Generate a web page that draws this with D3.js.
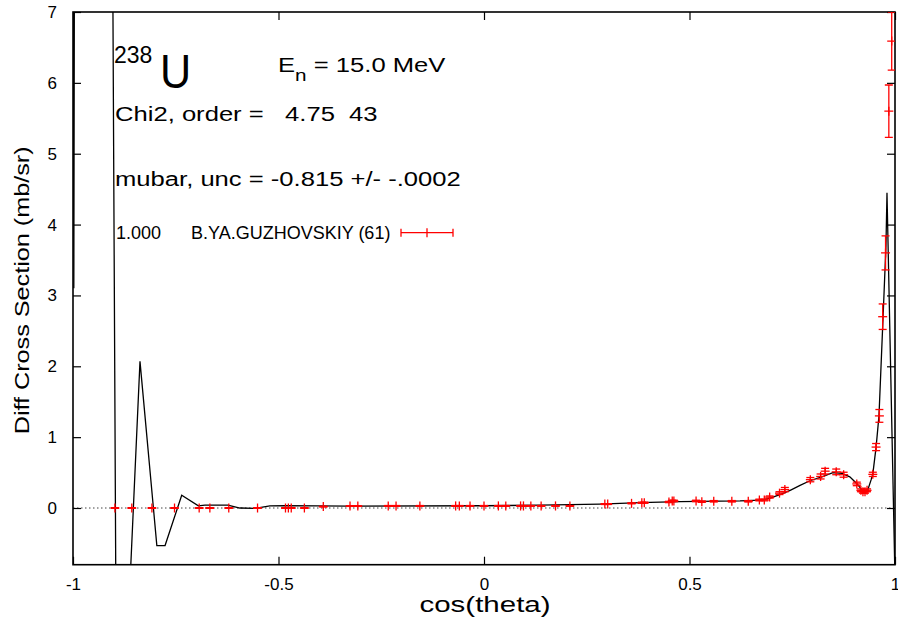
<!DOCTYPE html>
<html>
<head>
<meta charset="utf-8">
<script src="https://cdn.jsdelivr.net/npm/d3@7"></script>
<style>
  html, body { margin: 0; padding: 0; background: #fff; }
  svg { display: block; font-family: "Liberation Sans", Arial, Helvetica, sans-serif; }
  text { white-space: pre; }
</style>
</head>
<body>
<svg id="chart" width="898" height="620"></svg>
<script>
// Measured angular distribution: cos(theta), cross section (mb/sr), uncertainty
const cosTheta = [-0.898, -0.857, -0.808, -0.753, -0.693, -0.667, -0.621, -0.551, -0.483, -0.476,
  -0.469, -0.437, -0.391, -0.326, -0.307, -0.233, -0.214, -0.156, -0.069, -0.060,
  -0.034, 0.000, 0.035, 0.053, 0.089, 0.096, 0.114, 0.139, 0.174, 0.209,
  0.294, 0.301, 0.359, 0.384, 0.390, 0.450, 0.458, 0.462, 0.516, 0.530,
  0.559, 0.603, 0.643, 0.670, 0.682, 0.695, 0.719, 0.732, 0.794, 0.819,
  0.830, 0.857, 0.875, 0.907, 0.917, 0.922, 0.927, 0.932, 0.946, 0.954,
  0.962, 0.970, 0.977, 0.985, 0.992];
const sigma = [0.000, 0.000, 0.000, 0.000, 0.000, 0.000, 0.000, 0.000, 0.000, 0.000,
  0.000, 0.000, 0.020, 0.028, 0.028, 0.030, 0.030, 0.030, 0.030, 0.030,
  0.030, 0.030, 0.030, 0.030, 0.030, 0.030, 0.030, 0.030, 0.030, 0.030,
  0.056, 0.056, 0.066, 0.075, 0.075, 0.085, 0.100, 0.100, 0.100, 0.090,
  0.095, 0.095, 0.095, 0.113, 0.113, 0.155, 0.210, 0.260, 0.400, 0.445,
  0.520, 0.510, 0.470, 0.340, 0.250, 0.230, 0.230, 0.250, 0.475, 0.860,
  1.300, 2.700, 3.600, 5.600, 6.590];
const sigmaErr = [0.005, 0.005, 0.005, 0.005, 0.005, 0.005, 0.005, 0.005, 0.005, 0.005,
  0.005, 0.005, 0.005, 0.005, 0.005, 0.005, 0.005, 0.005, 0.005, 0.005,
  0.005, 0.005, 0.005, 0.005, 0.005, 0.005, 0.005, 0.005, 0.005, 0.005,
  0.006, 0.006, 0.007, 0.008, 0.008, 0.009, 0.010, 0.010, 0.010, 0.010,
  0.010, 0.010, 0.010, 0.012, 0.012, 0.015, 0.020, 0.030, 0.030, 0.035,
  0.040, 0.040, 0.035, 0.025, 0.020, 0.020, 0.020, 0.020, 0.030, 0.050,
  0.090, 0.180, 0.240, 0.370, 0.410];

// Legendre fit evaluated on the angular grid
const fitX = [-1.000, -0.998, -0.996, -0.9045, -0.8955, -0.878, -0.837, -0.796, -0.776, -0.7355,
  -0.695, -0.679, -0.623, -0.594, -0.557, -0.521, -0.484, -0.326, 0.000, 0.136,
  0.282, 0.380, 0.477, 0.623, 0.672, 0.696, 0.720, 0.745, 0.769, 0.793,
  0.822, 0.849, 0.871, 0.890, 0.908, 0.920, 0.927, 0.934, 0.942, 0.946,
  0.954, 0.961, 0.971, 0.978, 0.9805, 1.000];
const fitY = [9.5, 3.1, 9.5, 9.0, -1.5, -3.2, 2.07, -0.53, -0.53, 0.18,
  0.03, 0.04, 0.04, 0.00, -0.005, 0.03, 0.035, 0.028, 0.032, 0.040,
  0.056, 0.075, 0.090, 0.100, 0.110, 0.140, 0.190, 0.250, 0.320, 0.385,
  0.440, 0.500, 0.490, 0.440, 0.340, 0.250, 0.230, 0.260, 0.400, 0.480,
  0.860, 1.300, 2.700, 3.700, 4.450, -1.000];

const xTicks = [-1, -0.5, 0, 0.5, 1];
const yTicks = [0, 1, 2, 3, 4, 5, 6, 7];

const nucleusMass = "238";
const nucleus = "U";
const energyText = ["E", "n", " = 15.0 MeV"];
const chi2Text = "Chi2, order =   4.75  43";
const mubarText = "mubar, unc = -0.815 +/- -.0002";
const legendNorm = "1.000";
const legendLabel = "B.YA.GUZHOVSKIY (61)";

const margin = { left: 73, top: 12, right: 3, bottom: 55.3 };
const W = 898, H = 620;
const innerW = W - margin.left - margin.right;
const innerH = H - margin.top - margin.bottom;

const svg = d3.select("#chart");
const x = d3.scaleLinear().domain([-1, 1]).range([0, innerW]);
const y = d3.scaleLinear().domain([-0.8, 7]).range([innerH, 0]);

const g = svg.append("g").attr("transform", `translate(${margin.left},${margin.top})`);

svg.append("defs").append("clipPath").attr("id", "plot-clip")
  .append("rect").attr("x", 0).attr("y", 0).attr("width", innerW).attr("height", innerH);

// zero reference line
g.append("line")
  .attr("x1", 0).attr("x2", innerW)
  .attr("y1", y(0)).attr("y2", y(0))
  .attr("stroke", "#444").attr("stroke-width", 1)
  .attr("stroke-dasharray", "1.5,2.5");

// ticks on all four sides, pointing inward
const tickLen = 8;
const axisStyle = sel => {
  sel.select(".domain").remove();
  sel.selectAll(".tick line").attr("stroke", "#000").attr("stroke-width", 1.2);
  sel.selectAll(".tick text").attr("fill", "#000")
    .style("font-size", "17px").style("font-family", "'Liberation Sans', Arial, sans-serif");
};
const fmtX = d => d === 0 ? "0" : String(d);

g.append("g").attr("transform", `translate(0,${innerH})`)
  .call(d3.axisBottom(x).tickValues(xTicks).tickFormat(fmtX).tickSizeInner(-tickLen).tickSizeOuter(0).tickPadding(13))
  .call(axisStyle);
g.append("g")
  .call(d3.axisTop(x).tickValues(xTicks).tickFormat("").tickSizeInner(-tickLen).tickSizeOuter(0))
  .call(axisStyle);
g.append("g")
  .call(d3.axisLeft(y).tickValues(yTicks).tickFormat(d3.format("d")).tickSizeInner(-tickLen).tickSizeOuter(0).tickPadding(16))
  .call(axisStyle);
g.append("g").attr("transform", `translate(${innerW},0)`)
  .call(d3.axisRight(y).tickValues(yTicks).tickFormat("").tickSizeInner(-tickLen).tickSizeOuter(0))
  .call(axisStyle);

// frame
g.append("rect").attr("x", 0).attr("y", 0).attr("width", innerW).attr("height", innerH)
  .attr("fill", "none").attr("stroke", "#000").attr("stroke-width", 1.6);

const plot = g.append("g").attr("clip-path", "url(#plot-clip)");

// fitted curve
const fit = fitX.map((d, i) => [d, fitY[i]]);
plot.append("path")
  .datum(fit)
  .attr("fill", "none").attr("stroke", "#000").attr("stroke-width", 1.3)
  .attr("d", d3.line().x(d => x(d[0])).y(d => y(d[1])));

// data points with error bars
const pts = cosTheta.map((c, i) => ({ c, v: sigma[i], e: sigmaErr[i] }));
const red = "#ff0000";
const cap = 4, arm = 4.5;
const pg = plot.append("g").attr("stroke", red).attr("stroke-width", 1.3).attr("fill", "none");
const p = pg.selectAll("g.pt").data(pts).join("g").attr("class", "pt");
p.append("line").attr("x1", d => x(d.c)).attr("x2", d => x(d.c))
  .attr("y1", d => y(d.v + d.e)).attr("y2", d => y(d.v - d.e));
p.append("line").attr("x1", d => x(d.c) - cap).attr("x2", d => x(d.c) + cap)
  .attr("y1", d => y(d.v + d.e)).attr("y2", d => y(d.v + d.e));
p.append("line").attr("x1", d => x(d.c) - cap).attr("x2", d => x(d.c) + cap)
  .attr("y1", d => y(d.v - d.e)).attr("y2", d => y(d.v - d.e));
p.append("line").attr("x1", d => x(d.c) - arm).attr("x2", d => x(d.c) + arm)
  .attr("y1", d => y(d.v)).attr("y2", d => y(d.v));
p.append("line").attr("x1", d => x(d.c)).attr("x2", d => x(d.c))
  .attr("y1", d => y(d.v) - arm).attr("y2", d => y(d.v) + arm);

// axis titles
svg.append("text")
  .attr("transform", `translate(${margin.left + innerW / 2 + 1},612) scale(1.34,1)`)
  .attr("text-anchor", "middle").style("font-size", "22px")
  .text("cos(theta)");
svg.append("text")
  .attr("transform", `translate(29,${margin.top + innerH / 2 + 2}) rotate(-90) scale(1.2,1)`)
  .attr("text-anchor", "middle").style("font-size", "21px")
  .text("Diff Cross Section (mb/sr)");

// annotations
const ann = svg.append("g").attr("fill", "#000");
ann.append("text").attr("x", 114).attr("y", 63).style("font-size", "23px").text(nucleusMass);
ann.append("text").attr("transform", "translate(160,88) scale(0.88,1)").style("font-size", "49px").text(nucleus);
const en = ann.append("text").attr("transform", "translate(278,72) scale(1.22,1)").style("font-size", "21px");
en.append("tspan").text(energyText[0]);
en.append("tspan").attr("dy", 9).style("font-size", "17px").text(energyText[1]);
en.append("tspan").attr("dy", -9).text(energyText[2]);
ann.append("text").attr("transform", "translate(115,121) scale(1.22,1)").style("font-size", "21px").text(chi2Text);
ann.append("text").attr("transform", "translate(115,186) scale(1.22,1)").style("font-size", "21px").text(mubarText);

// legend
const lg = svg.append("g");
lg.append("text").attr("x", 116).attr("y", 239).style("font-size", "18px").text(legendNorm);
lg.append("text").attr("x", 191).attr("y", 239).style("font-size", "18px").text(legendLabel);
const ly = 232.7, lx0 = 401, lx1 = 453, lxc = 427;
const ls = lg.append("g").attr("stroke", red).attr("stroke-width", 1.3);
ls.append("line").attr("x1", lx0).attr("x2", lx1).attr("y1", ly).attr("y2", ly);
ls.append("line").attr("x1", lx0).attr("x2", lx0).attr("y1", ly - cap).attr("y2", ly + cap);
ls.append("line").attr("x1", lx1).attr("x2", lx1).attr("y1", ly - cap).attr("y2", ly + cap);
ls.append("line").attr("x1", lxc).attr("x2", lxc).attr("y1", ly - arm).attr("y2", ly + arm);
</script>
</body>
</html>
